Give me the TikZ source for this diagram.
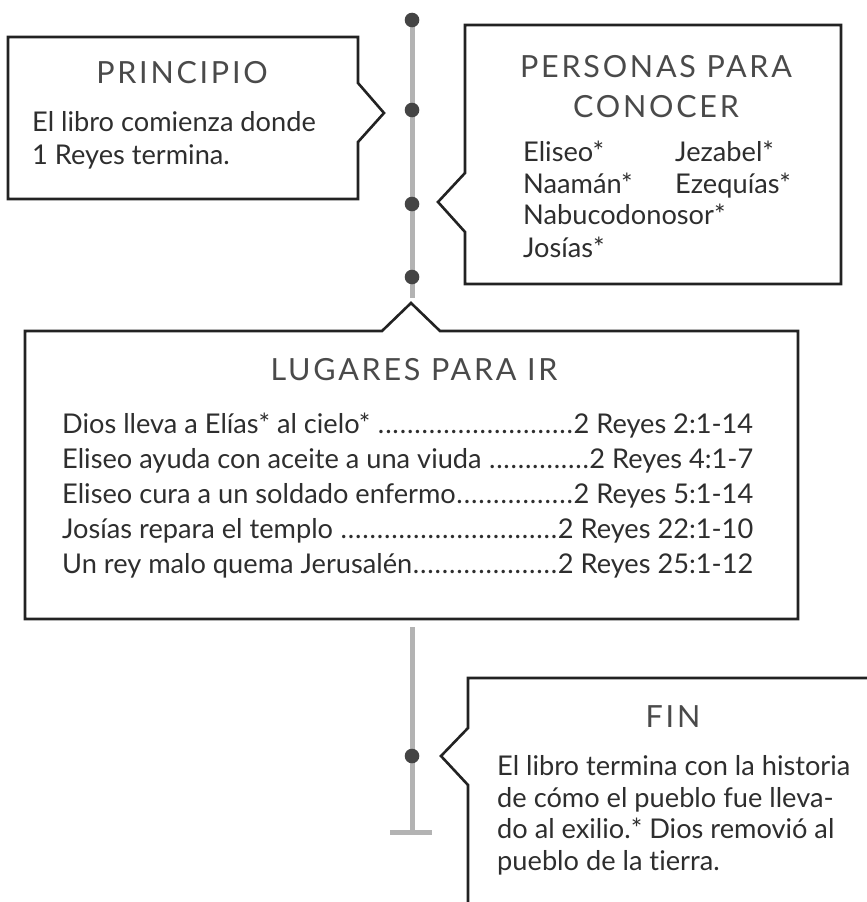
\documentclass[tikz,border=0pt]{standalone}
\usepackage{fontspec}
\setmainfont[Ligatures=NoCommon]{Lato}
\newfontfamily\titlefont[LetterSpace=9]{Lato}
\definecolor{boxline}{HTML}{222222}
\definecolor{tlgray}{HTML}{B3B3B3}
\definecolor{dotc}{HTML}{444444}
\definecolor{titlec}{HTML}{4A4A4A}
\definecolor{bodyc}{HTML}{2E2E2E}
\newcommand{\bodysize}{\fontsize{27.2}{32}\selectfont}
\newcommand{\titlesize}{\fontsize{30.5}{36}\selectfont}
\newcommand{\leaderline}[2]{\makebox[691pt][s]{#1\xleaders\hbox to 0.26em{\hss.\hss}\hfill#2}}
\tikzset{
  boxpath/.style={draw=boxline, line width=2.6pt, line join=miter, fill=white},
  tl/.style={draw=tlgray, line width=5pt},
  tdot/.style={fill=dotc},
  ttl/.style={inner sep=0pt, anchor=base, text=titlec, font=\titlefont\titlesize},
  bdy/.style={inner sep=0pt, anchor=base west, text=bodyc, font=\bodysize},
}
\begin{document}
\begin{tikzpicture}[x=1pt,y=-1pt]
\useasboundingbox[fill=white] (0,0) rectangle (867,902);
% timeline
\draw[tl] (412,20) -- (412,298);
\draw[tl] (412,627) -- (412,832);
\draw[tl] (390,832) -- (432,832);
\foreach \yy in {20,110,204,277,756} \fill[tdot] (412,\yy) circle (7.3);
% boxes
\draw[boxpath] (8,37) -- (358,37) -- (358,83) -- (384,113) -- (358,142) -- (358,199) -- (8,199) -- cycle;
\draw[boxpath] (465,25) -- (841,25) -- (841,284) -- (465,284) -- (465,232) -- (438,202) -- (465,173) -- cycle;
\draw[boxpath] (25,331) -- (382,331) -- (411,303) -- (440,331) -- (798,331) -- (798,619) -- (25,619) -- cycle;
\draw[boxpath] (880,678) -- (468,678) -- (468,728) -- (441,756) -- (468,785) -- (468,915) -- (880,915);
% PRINCIPIO
\node[ttl] (t1) at (182,83) {PRINCIPIO};
\node[bdy] (p1) at (32,131) {El libro comienza donde};
\node[bdy] (p2) at (32,164) {1 Reyes termina.};
% PERSONAS
\node[ttl] (t2a) at (656,77) {PERSONAS PARA};
\node[ttl] (t2b) at (656,117) {CONOCER};
\node[bdy] (n1) at (523,161) {Eliseo*};
\node[bdy] (n2) at (675,161) {Jezabel*};
\node[bdy] (n3) at (523,193) {Naamán*};
\node[bdy] (n4) at (675,193) {Ezequías*};
\node[bdy] (n5) at (523,224) {Nabucodonosor*};
\node[bdy] (n6) at (523,257) {Josías*};
% LUGARES
\node[ttl] (t3) at (414,380) {LUGARES PARA IR};
\node[bdy] (l1) at (62,433) {\leaderline{Dios lleva a Elías* al cielo* }{2 Reyes 2:1-14}};
\node[bdy] (l2) at (62,468) {\leaderline{Eliseo ayuda con aceite a una viuda }{2 Reyes 4:1-7}};
\node[bdy] (l3) at (62,503) {\leaderline{Eliseo cura a un soldado enfermo}{2 Reyes 5:1-14}};
\node[bdy] (l4) at (62,538) {\leaderline{Josías repara el templo }{2 Reyes 22:1-10}};
\node[bdy] (l5) at (62,573) {\leaderline{Un rey malo quema Jerusalén}{2 Reyes 25:1-12}};
% FIN
\node[ttl] (t4) at (673,727) {FIN};
\node[bdy] (f1) at (497,775) {El libro termina con la historia};
\node[bdy] (f2) at (497,807) {de cómo el pueblo fue lleva-};
\node[bdy] (f3) at (497,838) {do al exilio.* Dios removió al};
\node[bdy] (f4) at (497,870) {pueblo de la tierra.};
\end{tikzpicture}
\end{document}
